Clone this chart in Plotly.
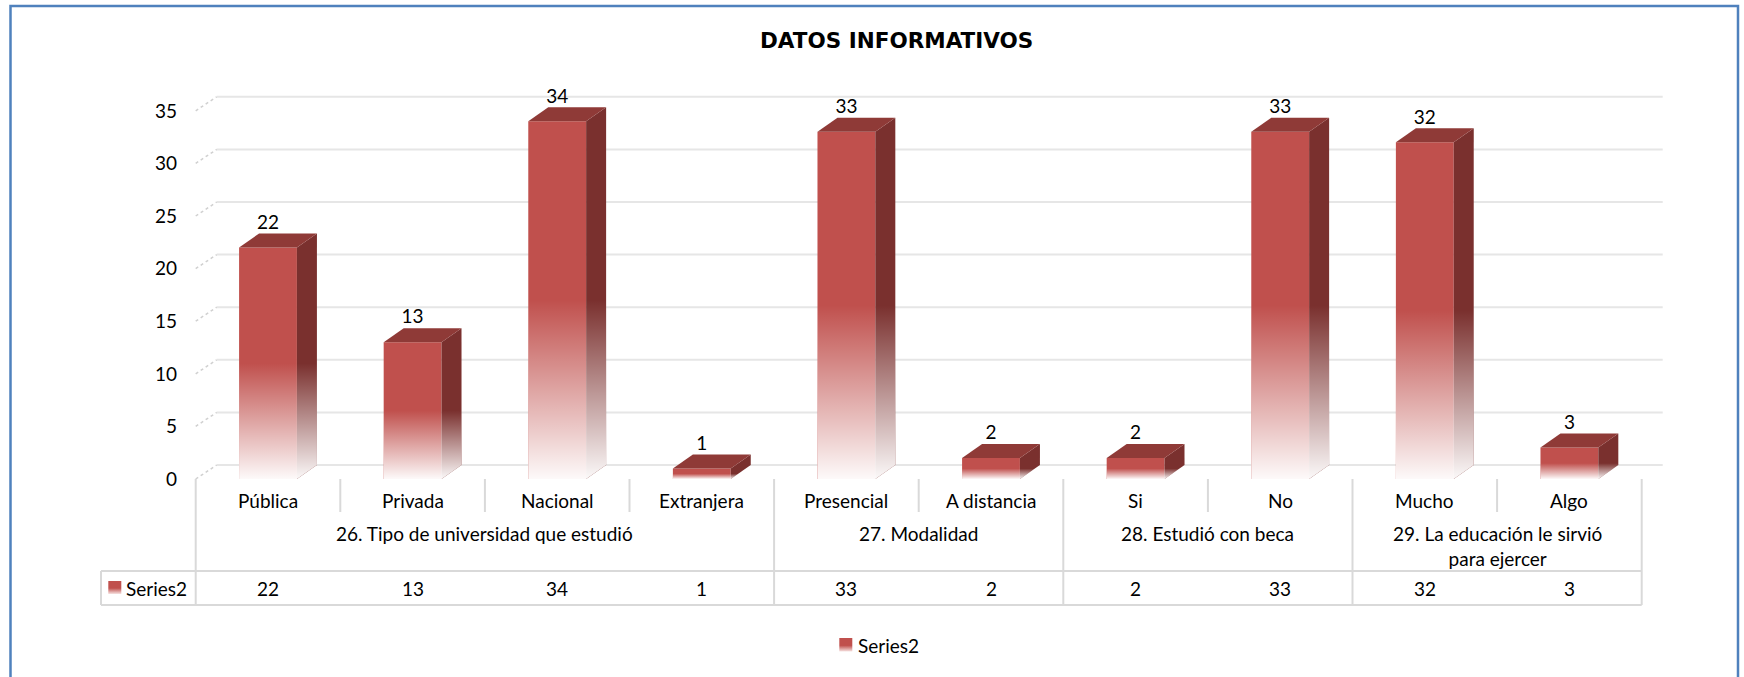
import plotly.graph_objects as go

# ---------------- data ----------------
categories = ["Pública", "Privada", "Nacional", "Extranjera", "Presencial",
              "A distancia", "Si", "No", "Mucho", "Algo"]
values = [22, 13, 34, 1, 33, 2, 2, 33, 32, 3]
groups = ["26. Tipo de universidad que estudió", "27. Modalidad",
          "28. Estudió con beca", "29. La educación le sirvió<br>para ejercer"]
group_sizes = [4, 2, 2, 2]
y_ticks = [0, 5, 10, 15, 20, 25, 30, 35]
series_name = "Series2"
title_text = "DATOS INFORMATIVOS"

# ---------------- layout constants (pixels) ----------------
W, H = 1744, 677
COL_W = 144.6        # width of one category column
CX0 = 268.0          # pixel centre of first category
Y0 = 479.0           # pixel of value 0 on the front floor
KY = 10.52           # pixels per value unit
BAR_DX, BAR_DY = 20.0, 14.0   # 3-D depth offset of the columns
GRID_DX = 21.0
BAR_W = 0.4

FONT = "Lato"
FS = 19
LINE_H = 1.3 * FS
RED, SIDE, TOP = "#C0504D", "#7A302E", "#8F3A37"
GRID = "#e6e6e6"
TABLE = "#d9d9d9"
BORDER = "#4F81BD"


def xd(px):
    return (px - CX0) / COL_W


def yd(py):
    return (Y0 - py) / KY


def yp(py):
    return 1 - py / H


def xp(px):
    return px / W


dxu = BAR_DX / COL_W
dyu = BAR_DY / KY
gdx = GRID_DX / COL_W
n = len(categories)
idx = list(range(n))

fig = go.Figure()

# front faces of the columns
fig.add_trace(go.Bar(x=idx, y=values, width=BAR_W, name=series_name,
                     marker=dict(color=RED, line=dict(width=0)),
                     showlegend=False, hoverinfo="skip"))

fade_scale = [[0, "rgba(255,255,255,0.97)"], [0.25, "rgba(255,255,255,0.72)"],
              [1, "rgba(255,255,255,0)"]]
for i, h in zip(idx, values):
    xl, xr = i - BAR_W / 2, i + BAR_W / 2
    # side face
    fig.add_trace(go.Scatter(x=[xr, xr + dxu, xr + dxu, xr, xr],
                             y=[0, dyu, h + dyu, h, 0],
                             fill="toself", fillcolor=SIDE, mode="lines",
                             line=dict(width=0), hoverinfo="skip", showlegend=False))
    # top face
    fig.add_trace(go.Scatter(x=[xl, xl + dxu, xr + dxu, xr, xl],
                             y=[h, h + dyu, h + dyu, h, h],
                             fill="toself", fillcolor=TOP, mode="lines",
                             line=dict(width=0), hoverinfo="skip", showlegend=False))
    # white fade over the lower half (front + side)
    fig.add_trace(go.Scatter(x=[xl, xr, xr + dxu, xr + dxu, xr, xl, xl],
                             y=[0, 0, dyu, h + dyu, h, h, 0],
                             fill="toself", mode="lines", line=dict(width=0),
                             fillgradient=dict(type="vertical", colorscale=fade_scale,
                                               start=0, stop=0.5 * h),
                             hoverinfo="skip", showlegend=False))

# data labels
fig.add_trace(go.Scatter(x=idx, y=[h + dyu + 9.5 / KY for h in values],
                         mode="text", text=[str(v) for v in values],
                         textposition="middle center",
                         textfont=dict(family=FONT, size=FS, color="#000000"),
                         hoverinfo="skip", showlegend=False))

# value-axis labels (front edge)
fig.add_trace(go.Scatter(x=[xd(177)] * len(y_ticks), y=[v - 2 / KY for v in y_ticks],
                         mode="text", text=[str(v) for v in y_ticks],
                         textposition="middle left",
                         textfont=dict(family=FONT, size=FS, color="#000000"),
                         hoverinfo="skip", showlegend=False))


# legend-key style squares (table header and legend)
def key_square(x0p, y0p, x1p, y1p):
    xa, xb = xd(x0p), xd(x1p)
    ya, yb = yd(y1p), yd(y0p)
    fig.add_trace(go.Scatter(x=[xa, xb, xb, xa, xa], y=[ya, ya, yb, yb, ya],
                             fill="toself", mode="lines", line=dict(width=0),
                             fillgradient=dict(type="vertical",
                                               colorscale=[[0, "#F6E2E1"], [0.45, RED], [1, RED]],
                                               start=ya, stop=yb),
                             hoverinfo="skip", showlegend=False))


key_square(108.3, 581, 121.3, 594)
key_square(839.3, 638, 852.3, 651.5)

shapes = []
# gridlines on the back wall + dotted left-side wall segments
for v in y_ticks:
    shapes.append(dict(type="line", xref="x", yref="y", layer="below",
                       x0=-0.5 + gdx, x1=n - 0.5 + gdx, y0=v + dyu, y1=v + dyu,
                       line=dict(color=GRID, width=2)))
    shapes.append(dict(type="line", xref="x", yref="y", layer="below",
                       x0=-0.5, x1=-0.5 + gdx, y0=v, y1=v + dyu,
                       line=dict(color="#d0d0d0", width=1.5, dash="dot")))

# data table lines
bounds = [-0.5]
for s in group_sizes:
    bounds.append(bounds[-1] + s)
for b in bounds:
    shapes.append(dict(type="line", xref="x", yref="paper", x0=b, x1=b,
                       y0=yp(479), y1=yp(605), line=dict(color=TABLE, width=2)))
for i in range(n - 1):
    b = i + 0.5
    if b not in bounds:
        shapes.append(dict(type="line", xref="x", yref="paper", x0=b, x1=b,
                           y0=yp(479), y1=yp(512), line=dict(color=TABLE, width=2)))
for py in (571, 605):
    shapes.append(dict(type="line", xref="x", yref="paper", x0=xd(101), x1=n - 0.5,
                       y0=yp(py), y1=yp(py), line=dict(color=TABLE, width=2)))
shapes.append(dict(type="line", xref="x", yref="paper", x0=xd(101), x1=xd(101),
                   y0=yp(571), y1=yp(605), line=dict(color=TABLE, width=2)))

# outer chart border
shapes.append(dict(type="rect", xref="paper", yref="paper", x0=xp(10.5), x1=xp(1738),
                   y0=-0.05, y1=yp(6), line=dict(color=BORDER, width=2.5)))

txt = dict(family=FONT, size=FS, color="#000000")
annotations = []
annotations.append(dict(text="<b>" + title_text + "</b>", x=xp(896), y=yp(40),
                        xref="paper", yref="paper", xanchor="center", yanchor="middle",
                        showarrow=False,
                        font=dict(family="DejaVu Sans", size=21.5, color="#000000")))
for i, c in enumerate(categories):
    annotations.append(dict(text=c, x=i, y=yp(500), xref="x", yref="paper",
                            xanchor="center", yanchor="middle", showarrow=False, font=txt))
start = 0
for g, s in zip(groups, group_sizes):
    cx = start + (s - 1) / 2
    nlines = g.count("<br>") + 1
    annotations.append(dict(text=g, x=cx, y=yp(533.5 + (nlines - 1) * LINE_H / 2),
                            xref="x", yref="paper", xanchor="center", yanchor="middle",
                            showarrow=False, font=txt))
    start += s
for i, v in enumerate(values):
    annotations.append(dict(text=str(v), x=i, y=yp(588), xref="x", yref="paper",
                            xanchor="center", yanchor="middle", showarrow=False, font=txt))
annotations.append(dict(text=series_name, x=xp(124), y=yp(588), xref="paper", yref="paper",
                        xanchor="left", yanchor="middle", showarrow=False, font=txt))
annotations.append(dict(text=series_name, x=xp(856), y=yp(645), xref="paper", yref="paper",
                        xanchor="left", yanchor="middle", showarrow=False, font=txt))

fig.update_layout(
    width=W, height=H,
    margin=dict(l=0, r=0, t=0, b=0),
    paper_bgcolor="white", plot_bgcolor="white",
    showlegend=False,
    xaxis=dict(range=[xd(0), xd(W)], visible=False, fixedrange=True),
    yaxis=dict(range=[yd(H), yd(0)], visible=False, fixedrange=True),
    shapes=shapes, annotations=annotations,
    hovermode=False,
)

fig.write_html("out.html", config={"displayModeBar": False},
               post_script="document.body.style.margin='0px';")
